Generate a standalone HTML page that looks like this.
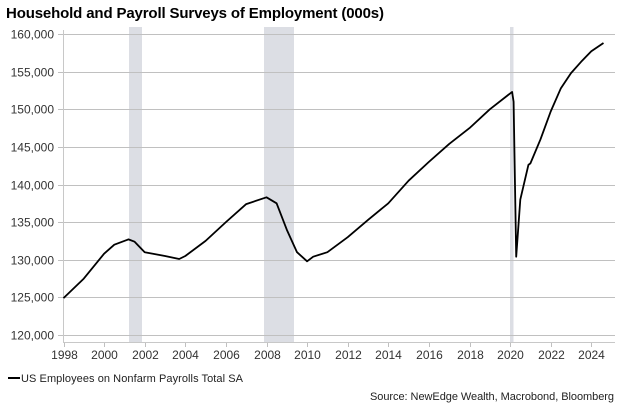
<!DOCTYPE html>
<html><head><meta charset="utf-8"><style>
body{margin:0;background:#fff;width:623px;height:412px;overflow:hidden;font-family:"Liberation Sans",Arial,sans-serif}
</style></head><body>
<svg id="s" width="623" height="412" xmlns="http://www.w3.org/2000/svg" font-family="Liberation Sans, Arial, sans-serif">
<text x="6" y="18" font-size="15" font-weight="bold" fill="#000" textLength="378" lengthAdjust="spacing">Household and Payroll Surveys of Employment (000s)</text>
<g fill="#dcdee4">
<rect x="129" y="27" width="13" height="316"/>
<rect x="264" y="27" width="30" height="316"/>
<rect x="510" y="27" width="3.5" height="316"/>
</g>
<g id="grid" stroke="#c0c0c0" stroke-width="1"></g>
<line x1="63.5" y1="30" x2="63.5" y2="343" stroke="#c8c8c8"/>
<line x1="63" y1="342.5" x2="615" y2="342.5" stroke="#c8c8c8"/>
<g id="lab" font-size="12" fill="#333"></g>
<path id="p" fill="none" stroke="#000" stroke-width="1.8" stroke-linejoin="round"/>
<line x1="8" y1="378" x2="20" y2="378" stroke="#000" stroke-width="2"/>
<text x="21" y="382" font-size="11" fill="#222" textLength="222" lengthAdjust="spacing">US Employees on Nonfarm Payrolls Total SA</text>
<text x="370" y="400" font-size="11" fill="#222" textLength="244" lengthAdjust="spacing">Source: NewEdge Wealth, Macrobond, Bloomberg</text>
</svg>
<script>
const X=t=>63.5+(t-1998)*20.3, Y=v=>34+(160000-v)*37.625/5000;
let g=document.getElementById('grid'),l=document.getElementById('lab'),ns='http://www.w3.org/2000/svg';
function el(p,n,a,t){let e=document.createElementNS(ns,n);for(let k in a)e.setAttribute(k,a[k]);if(t)e.textContent=t;p.appendChild(e);}
for(let v=120000;v<=160000;v+=5000){let y=Y(v)+0.5|0;y+=0.5;el(g,'line',{x1:58,x2:615,y1:y,y2:y});el(l,'text',{x:54,y:y+4,'text-anchor':'end'},v.toLocaleString('en-US'));}
for(let t=1998;t<=2024;t+=2){let x=Math.round(X(t))+0.5;el(g,'line',{x1:x,x2:x,y1:342,y2:347});el(l,'text',{x:x,y:359,'text-anchor':'middle'},t);}
const d=[[1998,124900],[1999,127500],[2000,130800],[2000.5,132000],[2001.2,132700],[2001.5,132400],[2002,131000],[2003,130500],[2003.7,130100],[2004,130500],[2005,132500],[2006,135000],[2007,137400],[2008,138300],[2008.5,137500],[2009,134000],[2009.5,131000],[2010,129800],[2010.3,130400],[2011,131000],[2012,133000],[2013,135300],[2014,137500],[2015,140500],[2016,143000],[2017,145400],[2018,147500],[2019,150000],[2020.1,152300],[2020.17,151000],[2020.3,130400],[2020.5,138000],[2020.9,142600],[2021,142800],[2021.5,146000],[2022,149700],[2022.5,152800],[2023,154800],[2023.5,156300],[2024,157700],[2024.6,158800]];
document.getElementById('p').setAttribute('d','M'+d.map(p=>X(p[0]).toFixed(1)+','+Y(p[1]).toFixed(1)).join('L'));
</script>
</body></html>
